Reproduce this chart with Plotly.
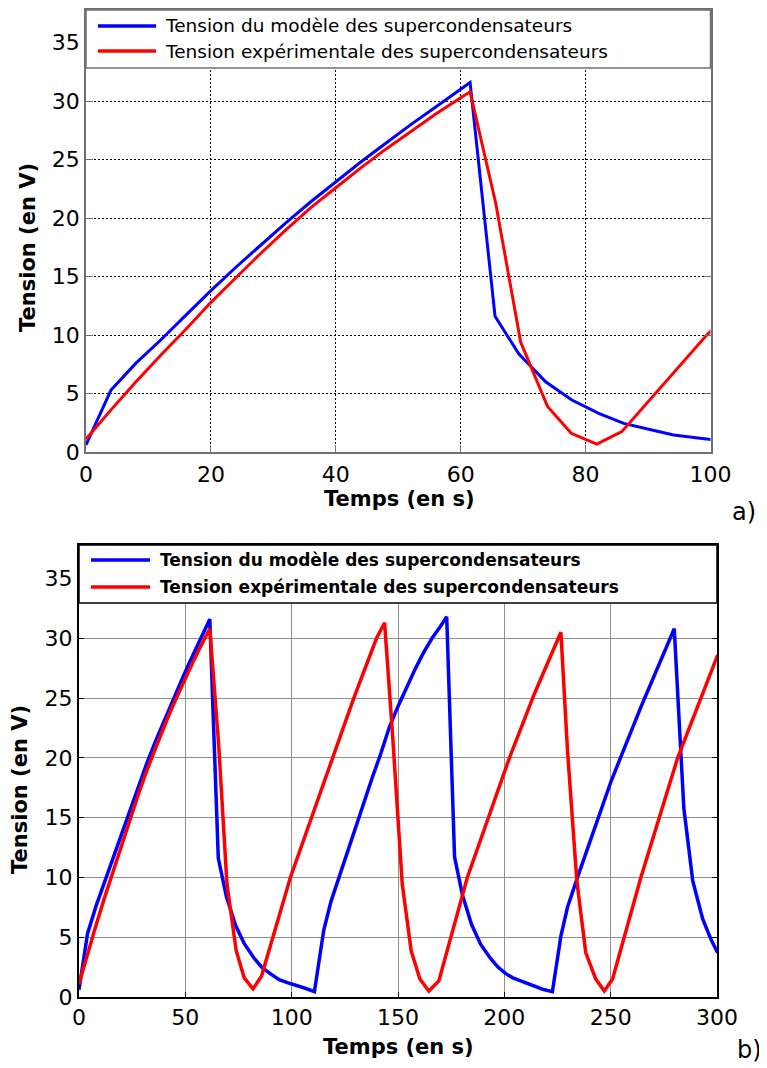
import plotly.graph_objects as go

# ---------------- data (time in s, voltage in V) ----------------
model_t = [0, 4, 8, 12, 16, 20, 24, 28, 32, 36, 40, 44, 48, 52, 56, 60, 61.5,
           65.5, 69.3, 73.6, 77.8, 82.1, 86.1, 90.1, 94.1, 98, 102, 106, 110.7,
           115.1, 118.5, 122, 126, 130, 134, 138, 142, 146, 150, 154, 158, 162, 166, 170, 172.9,
           176.6, 180.2, 184.5, 188.9, 193.6, 197, 200.7, 204, 207.7, 211, 214.8, 218, 222.6,
           226.6, 229.7, 234.4, 250.1, 264.2, 279.9,
           284.4, 288.6, 293.3, 297.2, 300.3]
model_v = [0.6, 5.3, 7.6, 9.6, 11.7, 13.8, 15.8, 17.7, 19.6, 21.4, 23.1, 24.8, 26.4, 28.0, 29.5, 31.0, 31.6,
           11.6, 8.4, 6.0, 4.44, 3.3, 2.45, 1.94, 1.45, 1.2, 1.0, 0.75, 0.45,
           5.6, 8.0, 9.9, 12.0, 14.2, 16.3, 18.4, 20.4, 22.6, 24.3, 25.9, 27.4, 28.8, 30.0, 31.0, 31.8,
           11.7, 8.6, 6.1, 4.4, 3.2, 2.5, 1.95, 1.6, 1.34, 1.1, 0.84, 0.65, 0.45,
           5.1, 7.5, 10.0, 18.0, 24.25, 30.8,
           15.8, 9.7, 6.5, 4.8, 3.7]

exp_t = [0, 4, 8, 12, 16, 20, 24, 28, 32, 36, 40, 44, 48, 52, 56, 60, 61.5,
         65.6, 69.6, 73.9, 77.7, 81.8, 85.8, 99.4, 119, 129.2, 139.9, 143.7,
         147.6, 152, 156.2, 160.3, 164.5, 169.2, 182.6, 202.4, 214, 226.6,
         229.7, 234.1, 238.3, 243, 247, 250.9, 264.2, 281.5, 300.3]
exp_v = [1.1, 3.6, 6.0, 8.3, 10.5, 12.8, 14.9, 17.0, 19.0, 20.9, 22.6, 24.3, 25.9, 27.4, 28.9, 30.3, 30.8,
         21.3, 9.4, 3.9, 1.6, 0.68, 1.74, 10.0, 20.0, 25.0, 30.0, 31.3,
         21.5, 9.45, 3.85, 1.5, 0.5, 1.35, 10.0, 20.0, 25.3, 30.5,
         20.6, 9.7, 3.7, 1.5, 0.5, 1.5, 10.0, 20.0, 28.6]

series_names = ["Tension du modèle des supercondensateurs",
                "Tension expérimentale des supercondensateurs"]
series_colors = ["#0000ff", "#ff0000"]

x_ticks_a = [0, 20, 40, 60, 80, 100]
x_ticks_b = [0, 50, 100, 150, 200, 250, 300]
y_ticks = [0, 5, 10, 15, 20, 25, 30, 35]
x_title = "Temps (en s)"
y_title = "Tension (en V)"
panel_labels = ["a)", "b)"]

# ---------------- layout helpers ----------------
# the page body has an 8px margin, so the figure is drawn 8px in and sized to fit
OFF = 8
W, H = 767 - OFF, 1068 - OFF
def px(x):
    return (x - OFF) / W
def py(y):
    return 1 - (y - OFF) / H

TICKFONT = dict(family="DejaVu Sans", size=22, color="black")
TITLEFONT = dict(family="DejaVu Sans", size=21, color="black")

fig = go.Figure()
for name, t, v, c in [(series_names[0], model_t, model_v, series_colors[0]),
                      (series_names[1], exp_t, exp_v, series_colors[1])]:
    fig.add_trace(go.Scatter(x=t, y=v, mode="lines", name=name,
                             line=dict(color=c, width=3), xaxis="x", yaxis="y",
                             showlegend=False))
for name, t, v, c in [(series_names[0], model_t, model_v, series_colors[0]),
                      (series_names[1], exp_t, exp_v, series_colors[1])]:
    fig.add_trace(go.Scatter(x=t, y=v, mode="lines", name=name,
                             line=dict(color=c, width=3.5), xaxis="x2", yaxis="y2",
                             showlegend=False))

YMAX = 37.8
fig.update_layout(
    template="none",
    width=W, height=H, autosize=False,
    margin=dict(l=0, r=0, t=0, b=0, pad=0),
    paper_bgcolor="white", plot_bgcolor="white",
    showlegend=False,
    xaxis=dict(domain=[px(86), px(710.5)], range=[0, 100], tickvals=x_ticks_a,
               showgrid=True, gridcolor="black", griddash="2px,2px", gridwidth=1,
               zeroline=False, showline=True, linecolor="#707070", linewidth=1.5,
               mirror="ticks", ticks="inside", ticklen=7, tickcolor="#707070",
               tickfont=TICKFONT, anchor="y", automargin=False, ticklabelstandoff=2),
    yaxis=dict(domain=[py(452), py(10)], range=[0, YMAX], tickvals=y_ticks,
               showgrid=True, gridcolor="black", griddash="2px,2px", gridwidth=1,
               zeroline=False, showline=True, linecolor="#707070", linewidth=1.5,
               mirror="ticks", ticks="inside", ticklen=7, tickcolor="#707070",
               tickfont=TICKFONT, anchor="x", automargin=False),
    xaxis2=dict(domain=[px(79), px(717)], range=[0, 300], tickvals=x_ticks_b,
                showgrid=True, gridcolor="#8f8f8f", gridwidth=1.3,
                zeroline=False, showline=True, linecolor="black", linewidth=2,
                mirror="ticks", ticks="inside", ticklen=5, tickcolor="black",
                tickfont=TICKFONT, anchor="y2", automargin=False),
    yaxis2=dict(domain=[py(997), py(545)], range=[0, YMAX], tickvals=y_ticks,
                showgrid=True, gridcolor="#8f8f8f", gridwidth=1.3,
                zeroline=False, showline=True, linecolor="black", linewidth=2,
                mirror="ticks", ticks="inside", ticklen=5, tickcolor="black",
                tickfont=TICKFONT, anchor="x2", automargin=False),
)

shapes = []
annotations = []

# legend boxes (drawn manually to span the whole axes width like the original)
legend_specs = [
    dict(x0=86, x1=710.5, y0=10, y1=68, border="#707070", lx0=98, lx1=156,
         rows=[26, 51], tx=163, font=dict(family="DejaVu Sans", size=18.5, color="black"), bold=False),
    dict(x0=79, x1=717, y0=545, y1=603, border="black", lx0=91, lx1=150,
         rows=[560, 587], tx=158, font=dict(family="DejaVu Sans", size=17, color="black"), bold=True),
]
for spec in legend_specs:
    shapes.append(dict(type="rect", xref="paper", yref="paper",
                       x0=px(spec["x0"]), x1=px(spec["x1"]), y0=py(spec["y1"]), y1=py(spec["y0"]),
                       fillcolor="white", line=dict(color=spec["border"], width=1.5), layer="above"))
    for name, color, ry in zip(series_names, series_colors, spec["rows"]):
        shapes.append(dict(type="line", xref="paper", yref="paper",
                           x0=px(spec["lx0"]), x1=px(spec["lx1"]), y0=py(ry), y1=py(ry),
                           line=dict(color=color, width=3.5), layer="above"))
        txt = f"<b>{name}</b>" if spec["bold"] else name
        annotations.append(dict(text=txt, xref="paper", yref="paper", x=px(spec["tx"]), y=py(ry),
                                xanchor="left", yanchor="middle", showarrow=False, font=spec["font"]))

# axis titles and panel labels
for (xt_x, xt_y, yt_x, yt_y, lab, lab_x, lab_y) in [
        (399, 499, 28, 248, panel_labels[0], 744, 512),
        (398, 1047, 20, 790, panel_labels[1], 749, 1050)]:
    annotations.append(dict(text=f"<b>{x_title}</b>", xref="paper", yref="paper",
                            x=px(xt_x), y=py(xt_y), xanchor="center", yanchor="middle",
                            showarrow=False, font=TITLEFONT))
    annotations.append(dict(text=f"<b>{y_title}</b>", xref="paper", yref="paper",
                            x=px(yt_x), y=py(yt_y), xanchor="center", yanchor="middle",
                            textangle=-90, showarrow=False, font=TITLEFONT))
    annotations.append(dict(text=lab, xref="paper", yref="paper",
                            x=px(lab_x), y=py(lab_y), xanchor="center", yanchor="middle",
                            showarrow=False, font=dict(family="DejaVu Sans", size=24, color="black")))

fig.update_layout(shapes=shapes, annotations=annotations)
fig.write_html("out.html")
